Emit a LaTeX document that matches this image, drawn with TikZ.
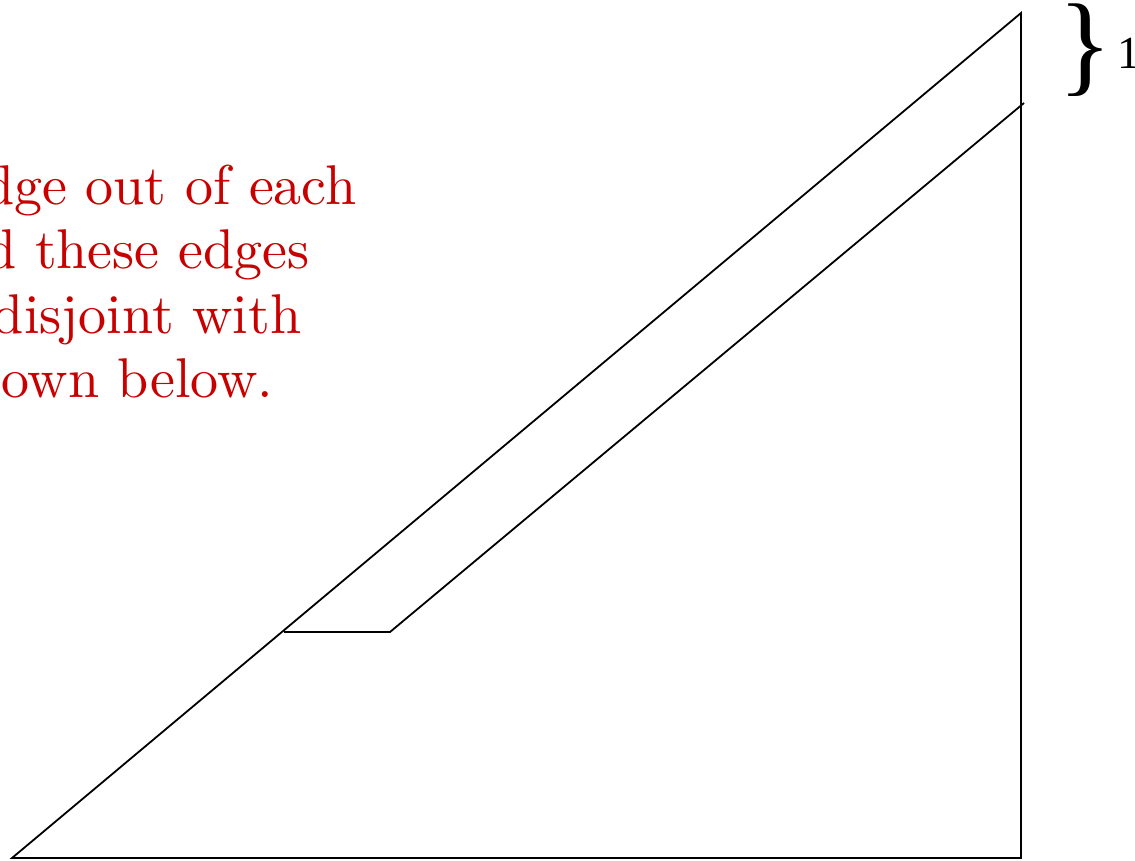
\documentclass[tikz,border=0pt]{standalone}
\usepackage{fontspec}
\newfontfamily\lmten{lmroman10-regular.otf}
\newfontfamily\timesf{Liberation Serif}
\definecolor{txtred}{RGB}{200,0,0}
\tikzset{
  edge/.style={draw=black, line width=1.8pt, line join=miter},
  redtxt/.style={text=txtred, font=\lmten\fontsize{56}{64}\selectfont, inner sep=0pt, anchor=base east},
}
\begin{document}
\begin{tikzpicture}[x=1pt,y=-1pt]
\useasboundingbox (0,0) rectangle (1135,861);
\clip (0,0) rectangle (1135,861);
% triangle
\coordinate (A) at (12,858);
\coordinate (B) at (1021,858);
\coordinate (C) at (1021,13);
\draw[edge] (A) -- (B) -- (C) -- cycle;
% inner path
\coordinate (P) at (284,632);
\coordinate (Q) at (390,632);
\coordinate (R) at (1024,103);
\draw[edge] (P) -- (Q) -- (R);
% red text
\node[redtxt] (t1) at (356.5,205) {dge out of each};
\node[redtxt] (t2) at (309.5,269) {d these edges};
\node[redtxt] (t3) at (301.5,333) {disjoint with};
\node[redtxt] (t4) at (273.5,397) {own below.};
% brace and label
\node[inner sep=0pt, anchor=base west, font=\timesf\fontsize{112}{112}\selectfont] (br) at (1058,82) {\}};
\node[inner sep=0pt, anchor=base west, font=\timesf\fontsize{46}{46}\selectfont] (one) at (1117,69) {1};
\end{tikzpicture}
\end{document}
